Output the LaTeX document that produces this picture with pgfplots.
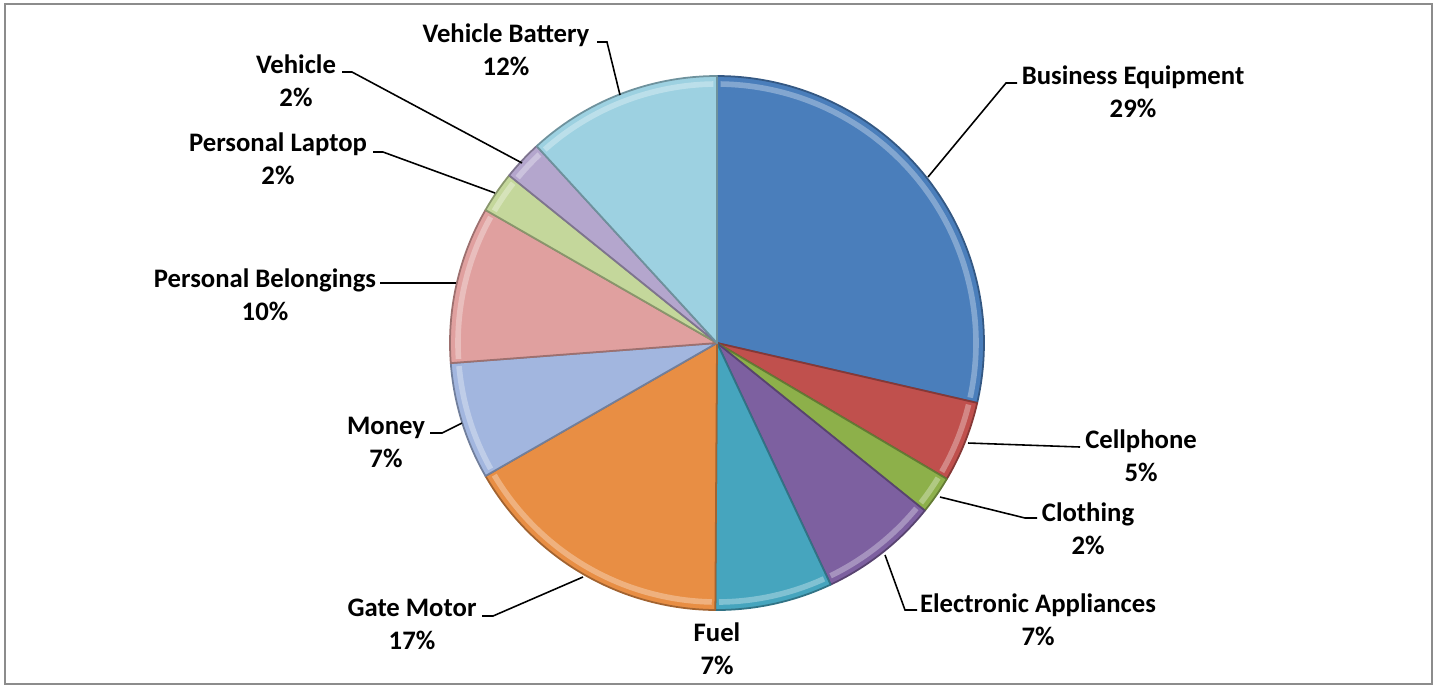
\documentclass[border=0pt]{standalone}
\usepackage{pgfplots}
\usepackage{pgfplotstable}
\pgfplotsset{compat=1.18}
\usepackage{fontspec}
\setmainfont{Carlito}

\definecolor{slice0}{HTML}{4A7EBB}
\definecolor{slice1}{HTML}{C0504D}
\definecolor{slice2}{HTML}{8DB04A}
\definecolor{slice3}{HTML}{7D60A0}
\definecolor{slice4}{HTML}{46A5BE}
\definecolor{slice5}{HTML}{E88E44}
\definecolor{slice6}{HTML}{A2B6DF}
\definecolor{slice7}{HTML}{E0A09F}
\definecolor{slice8}{HTML}{C4D79B}
\definecolor{slice9}{HTML}{B4A6CD}
\definecolor{slice10}{HTML}{9DD1E1}
\definecolor{framegray}{HTML}{8C8C8C}

\pgfplotstableread[col sep=comma]{
label,value
Business Equipment,28.6
Cellphone,4.9
Clothing,2.3
Electronic Appliances,7.2
Fuel,7.1
Gate Motor,16.6
Money,7.1
Personal Belongings,9.5
Personal Laptop,2.5
Vehicle,2.4
Vehicle Battery,11.8
}\piedata

\newcommand\lbl{\bfseries\fontsize{7.6}{9.3}\selectfont}

\begin{document}
\begin{tikzpicture}
\begin{axis}[
  scale only axis, width=14.37cm, height=6.88cm,
  xmin=0, xmax=1437, ymin=0, ymax=688,
  hide axis, clip=false,
]
\path (axis cs:0,0) rectangle (axis cs:1437,688);
\pgfmathsetmacro\cum{0}
\pgfplotsforeachungrouped \i in {0,...,10}{%
  \pgfplotstablegetelem{\i}{value}\of\piedata
  \let\v\pgfplotsretval
  \pgfmathsetmacro\aStart{90-3.6*\cum}%
  \pgfmathsetmacro\cum{\cum+\v}%
  \pgfmathsetmacro\aEnd{90-3.6*\cum}%
  \edef\cmd{\noexpand\addplot[fill=slice\i, draw=slice\i!70!black, line width=0.5pt, line join=round, domain=\aEnd:\aStart, samples=80, smooth=false]
    ({717+267*cos(x)},{345+267*sin(x)}) -- (axis cs:717,345) -- cycle;}%
  \cmd
  \edef\cmd{\noexpand\addplot[draw=slice\i!55!white, line width=1.6pt, opacity=0.7, domain=\aEnd+0.8:\aStart-0.8, samples=80]
    ({717+259*cos(x)},{345+259*sin(x)});}%
  \cmd
}

\draw[framegray, line width=0.6pt] (axis cs:5,4) rectangle (axis cs:1432,684);

% leader lines
\draw[black, line width=0.45pt] (axis cs:928,511) -- (axis cs:1006,605) -- (axis cs:1017,605);
\draw[black, line width=0.45pt] (axis cs:968,245) -- (axis cs:1080,241);
\draw[black, line width=0.45pt] (axis cs:940,191) -- (axis cs:1025,170) -- (axis cs:1037,170);
\draw[black, line width=0.45pt] (axis cs:885,133) -- (axis cs:905,78) -- (axis cs:917,78);
\draw[black, line width=0.45pt] (axis cs:583,111) -- (axis cs:493,72) -- (axis cs:482,72);
\draw[black, line width=0.45pt] (axis cs:462,265) -- (axis cs:442,255) -- (axis cs:430,255);
\draw[black, line width=0.45pt] (axis cs:456,405) -- (axis cs:380,405);
\draw[black, line width=0.45pt] (axis cs:495,495) -- (axis cs:383,536) -- (axis cs:373,536);
\draw[black, line width=0.45pt] (axis cs:522,525) -- (axis cs:352,616) -- (axis cs:342,616);
\draw[black, line width=0.45pt] (axis cs:620,593) -- (axis cs:607,646) -- (axis cs:597,646);

% labels
\node[align=center, font=\lbl] at (axis cs:1133,596.5) {Business Equipment\\29\%};
\node[align=center, font=\lbl] at (axis cs:1141,232) {Cellphone\\5\%};
\node[align=center, font=\lbl] at (axis cs:1088,159) {Clothing\\2\%};
\node[align=center, font=\lbl] at (axis cs:1038,68) {Electronic Appliances\\7\%};
\node[align=center, font=\lbl] at (axis cs:717,39) {Fuel\\7\%};
\node[align=center, font=\lbl] at (axis cs:412,63.5) {Gate Motor\\17\%};
\node[align=center, font=\lbl] at (axis cs:386,245.5) {Money\\7\%};
\node[align=center, font=\lbl] at (axis cs:265,393) {Personal Belongings\\10\%};
\node[align=center, font=\lbl] at (axis cs:278,529.5) {Personal Laptop\\2\%};
\node[align=center, font=\lbl] at (axis cs:296,607.5) {Vehicle\\2\%};
\node[align=center, font=\lbl] at (axis cs:506,638.5) {Vehicle Battery\\12\%};
\end{axis}
\end{tikzpicture}
\end{document}
